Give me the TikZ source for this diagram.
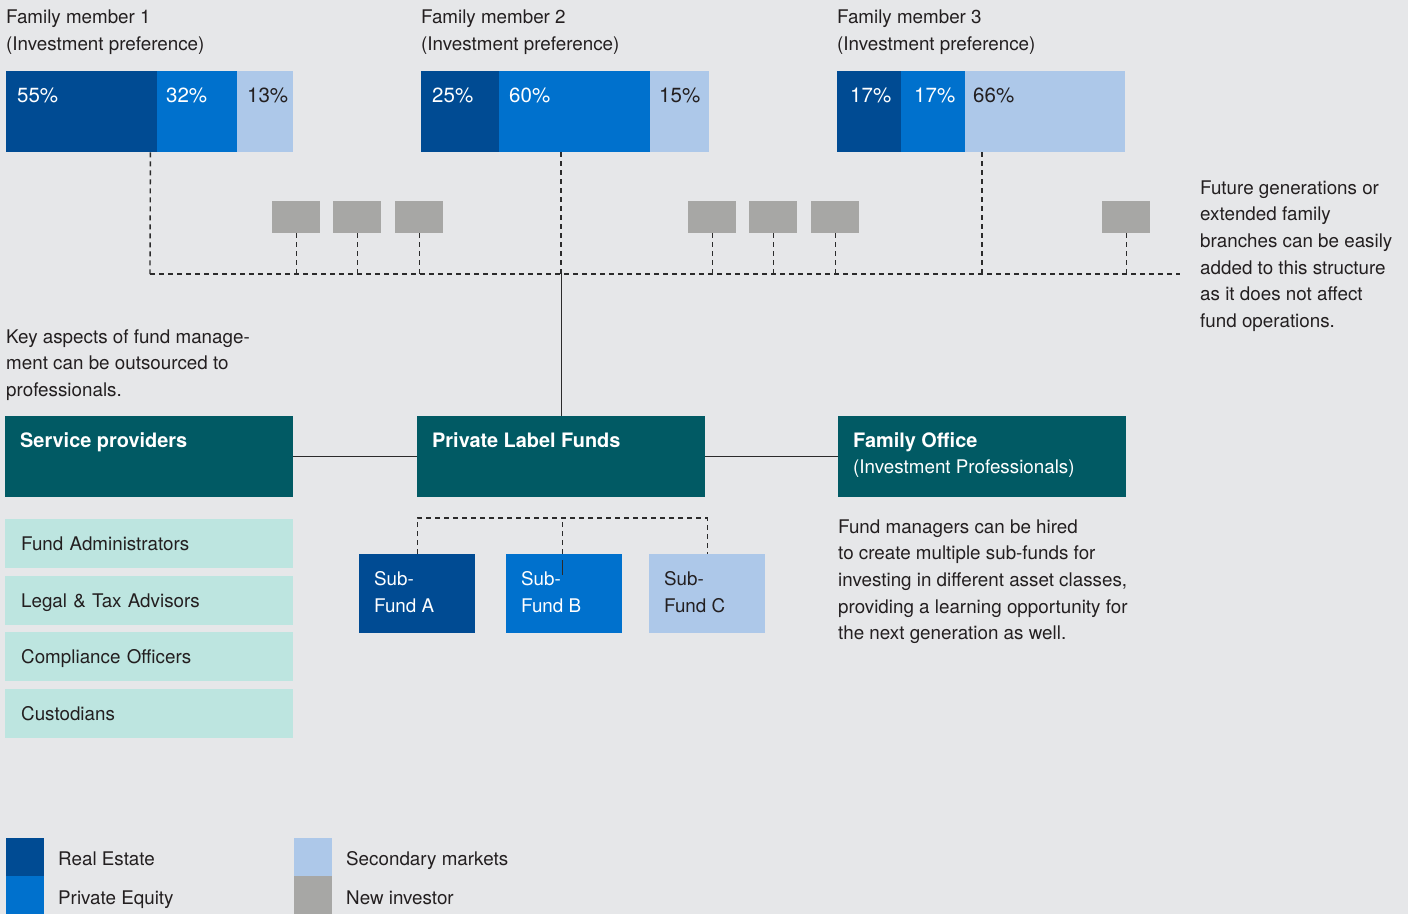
\documentclass[tikz,border=0pt]{standalone}
\usepackage{fontspec}
\setmainfont{TeX Gyre Heros}
\definecolor{bg}{HTML}{E6E7E9}
\definecolor{cdark}{HTML}{004B93}
\definecolor{cmid}{HTML}{0071CD}
\definecolor{clight}{HTML}{ADC8E9}
\definecolor{cgrey}{HTML}{A7A7A5}
\definecolor{cteal}{HTML}{015A64}
\definecolor{cpale}{HTML}{BDE5E0}
\definecolor{ink}{HTML}{231F20}
\definecolor{wire}{HTML}{2B2B2B}
\begin{document}
\begin{tikzpicture}[x=1pt,y=-1pt,
  every node/.style={font=\fontsize{18.8}{26.7}\selectfont, text=ink},
  txt/.style={anchor=base west, inner sep=0pt, align=left},
  wtxt/.style={txt, text=white},
  pct/.style={txt, font=\fontsize{20.5}{26.7}\selectfont},
  wpct/.style={pct, text=white},
  btxt/.style={txt, text=white, font=\fontsize{19.9}{26.7}\selectfont\bfseries},
  seg/.style={anchor=north west, inner sep=0pt, minimum height=81pt},
  newbox/.style={anchor=north west, inner sep=0pt, fill=cgrey, minimum width=48pt, minimum height=32pt},
  mainbox/.style={anchor=north west, inner sep=0pt, fill=cteal, minimum width=288pt, minimum height=81pt},
  listbox/.style={anchor=north west, inner xsep=16pt, inner ysep=0pt, fill=cpale, text width=256pt,
    align=left, minimum height=49pt, text height=13.6pt, text depth=0pt},
  subbox/.style={anchor=north west, inner sep=0pt, minimum width=116pt, minimum height=79pt},
  swatch/.style={anchor=north west, inner sep=0pt, minimum width=38pt, minimum height=38pt},
  dashline/.style={draw=wire, line width=1.4pt, dash pattern=on 5pt off 4pt},
  solidline/.style={draw=wire, line width=1.3pt}]
\fill[bg] (0,0) rectangle (1408,914);
\useasboundingbox (0,0) rectangle (1408,914);

% family members: titles and preference bars (multi-line nodes sit on their last baseline)
\node[txt] (t1) at (6,50) {Family member 1\\(Investment preference)};
\node[txt] (t2) at (421,50) {Family member 2\\(Investment preference)};
\node[txt] (t3) at (837,50) {Family member 3\\(Investment preference)};

\node[seg, fill=cdark, minimum width=151pt] (m1a) at (6,71) {};
\node[seg, fill=cmid, minimum width=80pt] (m1b) at (157,71) {};
\node[seg, fill=clight, minimum width=56pt] (m1c) at (237,71) {};
\node[wpct] at (17,102) {55\%};
\node[wpct] at (166,102) {32\%};
\node[pct] at (247,102) {13\%};

\node[seg, fill=cdark, minimum width=78pt] (m2a) at (421,71) {};
\node[seg, fill=cmid, minimum width=151pt] (m2b) at (499,71) {};
\node[seg, fill=clight, minimum width=59pt] (m2c) at (650,71) {};
\node[wpct] at (432,102) {25\%};
\node[wpct] at (509,102) {60\%};
\node[pct] at (659,102) {15\%};

\node[seg, fill=cdark, minimum width=64pt] (m3a) at (837,71) {};
\node[seg, fill=cmid, minimum width=64pt] (m3b) at (901,71) {};
\node[seg, fill=clight, minimum width=160pt] (m3c) at (965,71) {};
\node[wpct] at (850,102) {17\%};
\node[wpct] at (914,102) {17\%};
\node[pct] at (973,102) {66\%};

% new investors
\node[newbox] (g1) at (272,201) {};
\node[newbox] (g2) at (333,201) {};
\node[newbox] (g3) at (395,201) {};
\node[newbox] (g4) at (688,201) {};
\node[newbox] (g5) at (749,201) {};
\node[newbox] (g6) at (811,201) {};
\node[newbox] (g7) at (1102,201) {};

% shared dashed bus
\coordinate (busL) at (150,274);
\coordinate (busR) at (1180,274);
\draw[dashline] (busL) -- (busR);
\draw[dashline] ([xshift=-7pt]m1a.south east) -- (busL);
\draw[dashline] ([xshift=62pt]m2b.south west) coordinate (d2) -- (d2 |- busL);
\draw[dashline] ([xshift=17pt]m3c.south west) coordinate (d3) -- (d3 |- busL);
\foreach \g in {g1,g2,g3,g4,g5,g6,g7}
  \draw[dashline] (\g.south) -- (\g.south |- busL);

% main boxes
\node[mainbox] (sp) at (5,416) {};
\node[mainbox] (plf) at (417,416) {};
\node[mainbox] (fo) at (838,416) {};
\node[btxt] at (20,447) {Service providers};
\node[btxt] at (432,447) {Private Label Funds};
\node[btxt] at (853,447) {Family Office};
\node[wtxt] at (853,473) {(Investment Professionals)};

\draw[solidline] (plf.north) -- (plf.north |- busL);
\draw[solidline] (sp.east) -- (plf.west);
\draw[solidline] (plf.east) -- (fo.west);

% service provider list
\node[listbox] (l1) at (5,519) {Fund Administrators};
\node[listbox] (l2) at (5,576) {Legal \& Tax Advisors};
\node[listbox] (l3) at (5,632) {Compliance Officers};
\node[listbox] (l4) at (5,689) {Custodians};

% sub-funds
\node[subbox, fill=cdark] (sa) at (359,554) {};
\node[subbox, fill=cmid] (sb) at (506,554) {};
\node[subbox, fill=clight] (sc) at (649,554) {};
\node[wtxt] at (374,612) {Sub-\\Fund A};
\node[wtxt] at (521,612) {Sub-\\Fund B};
\node[txt] at (664,612) {Sub-\\Fund C};
\draw[dashline] (sa.north) -- ++(0,-36) -| (sc.north);
\draw[dashline] ([xshift=-2pt]sb.north) coordinate (sbt) -- ++(0,-36);
\draw[solidline] ([yshift=-21pt]sbt) -- ++(0,-15);

% notes
\node[txt] (n1) at (6,396.4) {Key aspects of fund manage-\\ment can be outsourced to\\professionals.};
\node[txt] (n2) at (838,639.8) {Fund managers can be hired\\to create multiple sub-funds for\\investing in different asset classes,\\providing a learning opportunity for\\the next generation as well.};
\node[txt] (n3) at (1200,327.5) {Future generations or\\extended family\\branches can be easily\\added to this structure\\as it does not affect\\fund operations.};

% legend
\node[swatch, fill=cdark] (k1) at (6,838) {};
\node[swatch, fill=cmid] (k2) at (6,876) {};
\node[swatch, fill=clight] (k3) at (294,838) {};
\node[swatch, fill=cgrey] (k4) at (294,876) {};
\node[txt] at (58,865) {Real Estate};
\node[txt] at (58,904) {Private Equity};
\node[txt] at (346,865) {Secondary markets};
\node[txt] at (346,904) {New investor};
\end{tikzpicture}
\end{document}
